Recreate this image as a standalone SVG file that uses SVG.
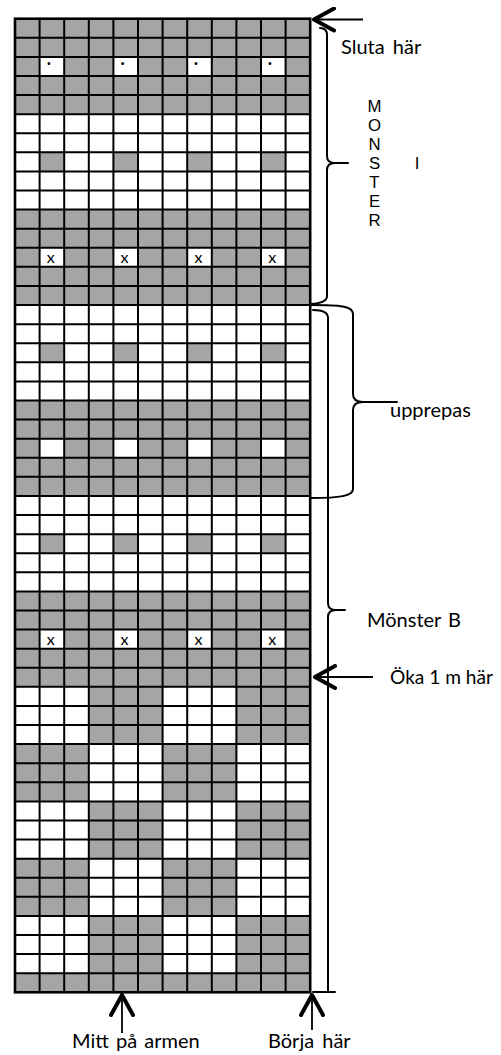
<svg xmlns="http://www.w3.org/2000/svg" width="501" height="1055" viewBox="0 0 501 1055">
<style>
.g{fill:#a5a5a5}
.w{fill:#fff}
.gl{stroke:#000;stroke-width:2;fill:none}
.edge{stroke:#000;stroke-width:2.6;fill:none}
.lbl{font-family:Lato,"Liberation Sans",sans-serif;font-size:20px;fill:#000}
.mk{font-family:Lato,"Liberation Sans",sans-serif;font-size:16px;fill:#000;text-anchor:middle}
.dot{font-family:Lato,"Liberation Sans",sans-serif;font-size:18px;font-weight:bold;fill:#000;text-anchor:middle}
.vl{font-family:"Liberation Sans",Arial,sans-serif;font-size:16.8px;fill:#000;text-anchor:middle}
.br{stroke:#000;stroke-width:2;fill:none;stroke-linecap:round;stroke-linejoin:round}
.ar{stroke:#000;stroke-width:1.8;fill:none}
</style>
<defs>
<marker id="head" viewBox="0 0 24 26" refX="22" refY="13" markerWidth="24" markerHeight="26" markerUnits="userSpaceOnUse" orient="auto">
<path d="M 2,2 L 22,13 L 2,24" fill="none" stroke="#000" stroke-width="4" stroke-linecap="round" stroke-linejoin="round"/>
</marker>
</defs>
<rect width="501" height="1055" fill="#fff"/>
<g id="chart">
<g id="bands">
<rect class="g" x="15" y="18.7" width="295.2" height="95.45"/>
<rect class="g" x="15" y="209.6" width="295.2" height="95.45"/>
<rect class="g" x="15" y="400.5" width="295.2" height="95.45"/>
<rect class="g" x="15" y="591.4" width="295.2" height="95.45"/>
<rect class="g" x="15" y="973.2" width="295.2" height="19.09"/>
</g>
<g id="white-dots">
<rect class="w" x="39.6" y="56.88" width="24.6" height="19.09"/>
<rect class="w" x="113.4" y="56.88" width="24.6" height="19.09"/>
<rect class="w" x="187.2" y="56.88" width="24.6" height="19.09"/>
<rect class="w" x="261" y="56.88" width="24.6" height="19.09"/>
<rect class="w" x="39.6" y="247.78" width="24.6" height="19.09"/>
<rect class="w" x="113.4" y="247.78" width="24.6" height="19.09"/>
<rect class="w" x="187.2" y="247.78" width="24.6" height="19.09"/>
<rect class="w" x="261" y="247.78" width="24.6" height="19.09"/>
<rect class="w" x="39.6" y="438.68" width="24.6" height="19.09"/>
<rect class="w" x="113.4" y="438.68" width="24.6" height="19.09"/>
<rect class="w" x="187.2" y="438.68" width="24.6" height="19.09"/>
<rect class="w" x="261" y="438.68" width="24.6" height="19.09"/>
<rect class="w" x="39.6" y="629.58" width="24.6" height="19.09"/>
<rect class="w" x="113.4" y="629.58" width="24.6" height="19.09"/>
<rect class="w" x="187.2" y="629.58" width="24.6" height="19.09"/>
<rect class="w" x="261" y="629.58" width="24.6" height="19.09"/>
</g>
<g id="gray-dots">
<rect class="g" x="39.6" y="152.33" width="24.6" height="19.09"/>
<rect class="g" x="113.4" y="152.33" width="24.6" height="19.09"/>
<rect class="g" x="187.2" y="152.33" width="24.6" height="19.09"/>
<rect class="g" x="261" y="152.33" width="24.6" height="19.09"/>
<rect class="g" x="39.6" y="343.23" width="24.6" height="19.09"/>
<rect class="g" x="113.4" y="343.23" width="24.6" height="19.09"/>
<rect class="g" x="187.2" y="343.23" width="24.6" height="19.09"/>
<rect class="g" x="261" y="343.23" width="24.6" height="19.09"/>
<rect class="g" x="39.6" y="534.13" width="24.6" height="19.09"/>
<rect class="g" x="113.4" y="534.13" width="24.6" height="19.09"/>
<rect class="g" x="187.2" y="534.13" width="24.6" height="19.09"/>
<rect class="g" x="261" y="534.13" width="24.6" height="19.09"/>
</g>
<g id="blocks">
<rect class="g" x="88.8" y="686.85" width="73.8" height="57.27"/>
<rect class="g" x="236.4" y="686.85" width="73.8" height="57.27"/>
<rect class="g" x="15" y="744.12" width="73.8" height="57.27"/>
<rect class="g" x="162.6" y="744.12" width="73.8" height="57.27"/>
<rect class="g" x="88.8" y="801.39" width="73.8" height="57.27"/>
<rect class="g" x="236.4" y="801.39" width="73.8" height="57.27"/>
<rect class="g" x="15" y="858.66" width="73.8" height="57.27"/>
<rect class="g" x="162.6" y="858.66" width="73.8" height="57.27"/>
<rect class="g" x="88.8" y="915.93" width="73.8" height="57.27"/>
<rect class="g" x="236.4" y="915.93" width="73.8" height="57.27"/>
</g>
<g id="gridlines">
<path class="gl" d="M39.6 18.7V992.29M64.2 18.7V992.29M88.8 18.7V992.29M113.4 18.7V992.29M138 18.7V992.29M162.6 18.7V992.29M187.2 18.7V992.29M211.8 18.7V992.29M236.4 18.7V992.29M261 18.7V992.29M285.6 18.7V992.29"/>
<path class="gl" d="M15 37.79H310.2M15 56.88H310.2M15 75.97H310.2M15 95.06H310.2M15 114.15H310.2M15 133.24H310.2M15 152.33H310.2M15 171.42H310.2M15 190.51H310.2M15 209.6H310.2M15 228.69H310.2M15 247.78H310.2M15 266.87H310.2M15 285.96H310.2M15 305.05H310.2M15 324.14H310.2M15 343.23H310.2M15 362.32H310.2M15 381.41H310.2M15 400.5H310.2M15 419.59H310.2M15 438.68H310.2M15 457.77H310.2M15 476.86H310.2M15 495.95H310.2M15 515.04H310.2M15 534.13H310.2M15 553.22H310.2M15 572.31H310.2M15 591.4H310.2M15 610.49H310.2M15 629.58H310.2M15 648.67H310.2M15 667.76H310.2M15 686.85H310.2M15 705.94H310.2M15 725.03H310.2M15 744.12H310.2M15 763.21H310.2M15 782.3H310.2M15 801.39H310.2M15 820.48H310.2M15 839.57H310.2M15 858.66H310.2M15 877.75H310.2M15 896.84H310.2M15 915.93H310.2M15 935.02H310.2M15 954.11H310.2M15 973.2H310.2"/>
<rect class="edge" x="15" y="18.7" width="295.2" height="973.59"/>
</g>
<g id="marks">
<text class="dot" x="49" y="64.5">.</text>
<text class="dot" x="122.7" y="64.5">.</text>
<text class="dot" x="196" y="64.5">.</text>
<text class="dot" x="270" y="64.5">.</text>
<text class="mk" x="50.8" y="263.1">x</text>
<text class="mk" x="124.6" y="263.1">x</text>
<text class="mk" x="198.4" y="263.1">x</text>
<text class="mk" x="272.2" y="263.1">x</text>
<text class="mk" x="50.8" y="644.9">x</text>
<text class="mk" x="124.6" y="644.9">x</text>
<text class="mk" x="198.4" y="644.9">x</text>
<text class="mk" x="272.2" y="644.9">x</text>
</g>
</g>
<g id="label-sluta"><text class="lbl" x="341" y="54" word-spacing="3">Sluta här</text></g>
<g id="label-monster-i">
<text class="vl"><tspan x="374.5" y="111.7">M</tspan><tspan x="374.5" y="130.7">O</tspan><tspan x="374.5" y="149.8">N</tspan><tspan x="374.5" y="168.8">S</tspan><tspan x="374.5" y="187.9">T</tspan><tspan x="374.5" y="206.9">E</tspan><tspan x="374.5" y="226">R</tspan></text>
<text class="vl" x="417" y="168.8">I</text>
</g>
<g id="label-upprepas"><text class="lbl" x="390" y="417">upprepas</text></g>
<g id="label-monster-b"><text class="lbl" x="367" y="627" word-spacing="2">Mönster B</text></g>
<g id="label-oka"><text class="lbl" x="390" y="684" textLength="103" lengthAdjust="spacingAndGlyphs">Öka 1 m här</text></g>
<g id="label-mitt"><text class="lbl" x="72" y="1048" word-spacing="2">Mitt på armen</text></g>
<g id="label-borja"><text class="lbl" x="268" y="1048" word-spacing="3">Börja här</text></g>
<g id="connectors">
<path class="ar" d="M363 19.5H314" marker-end="url(#head)"/>
<path class="ar" d="M373 677H315" marker-end="url(#head)"/>
<path class="ar" d="M122 1033V995" marker-end="url(#head)"/>
<path class="ar" d="M312 1030V995" marker-end="url(#head)"/>
<path class="br" d="M320 28Q327 28 327 35V156Q327 163 335 163H348M335 163Q327 163 327 170V296Q327 303 311 304"/>
<path class="br" d="M311 305C340 305 353 306 353 314V394Q353 402 363 402H397M363 402Q353 402 353 410V489C353 496 340 498 311 498"/>
<path class="br" d="M313 310Q328 310 328 318V603Q328 610 336 610H345M336 610Q328 610 328 617V992M313 992H335"/>
</g>
</svg>
